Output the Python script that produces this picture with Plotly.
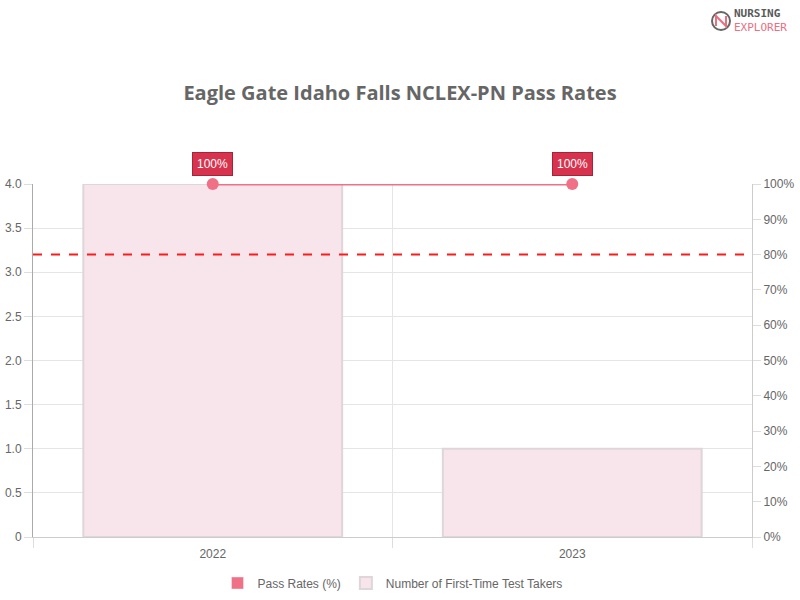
import plotly.graph_objects as go

years = ["2022", "2023"]
test_takers = [4, 1]
pass_rates = [100, 100]
threshold = 80
left_ticks = [0, 0.5, 1.0, 1.5, 2.0, 2.5, 3.0, 3.5, 4.0]
left_tick_text = ["0", "0.5", "1.0", "1.5", "2.0", "2.5", "3.0", "3.5", "4.0"]
right_ticks = [0, 10, 20, 30, 40, 50, 60, 70, 80, 90, 100]

title = "Eagle Gate Idaho Falls NCLEX-PN Pass Rates"
base_font = "Liberation Sans, Arial, sans-serif"
grey = "#666666"
line_color = "#F07085"

H, W = 600, 800
M_L, M_R, M_T, M_B = 33, 48, 184, 63
PH = H - M_T - M_B
PW = W - M_L - M_R


def py(page_y):
    return (H - M_B - page_y) / PH


def px(page_x):
    return (page_x - M_L) / PW


fig = go.Figure()
fig.add_trace(go.Bar(
    x=years, y=test_takers, name="Number of First-Time Test Takers",
    marker=dict(color="rgba(248,229,236,1)", line=dict(color="rgba(222,214,217,1)", width=2)),
    width=0.72, yaxis="y", xaxis="x", legendrank=2,
))
fig.add_trace(go.Scatter(
    x=years, y=pass_rates, name="Pass Rates (%)", mode="lines+markers",
    line=dict(color=line_color, width=3), marker=dict(color=line_color, size=12),
    yaxis="y2", xaxis="x", cliponaxis=False, showlegend=False,
))
# legend swatch for the line series (Chart.js-style filled box)
fig.add_trace(go.Bar(
    x=[None], y=[None], name="Pass Rates (%)", marker=dict(color=line_color),
    yaxis="y", xaxis="x", legendrank=1,
))

n = len(years)
for i, pr in enumerate(pass_rates):
    fig.add_annotation(
        x=(i + 0.5) / n, y=pr / 100, xref="paper", yref="paper", text=f"{pr}%", showarrow=False,
        xanchor="center", yanchor="middle", yshift=20,
        font=dict(color="white", size=12, family=base_font),
        bgcolor="#D7334E", bordercolor="#A8223A", borderwidth=1, borderpad=4,
    )

fig.add_shape(type="line", xref="paper", x0=0, x1=1, yref="y2", y0=threshold, y1=threshold,
              line=dict(color="#FF1A1A", width=2, dash="dash"))

# Logo
fig.add_annotation(xref="paper", yref="paper", x=px(732), y=py(21), xanchor="left", yanchor="middle",
                   text="<b>NURSING</b><br><span style='color:#E8707F'>EXPLORER</span>",
                   showarrow=False, align="left",
                   font=dict(family="DejaVu Sans Mono, monospace", size=11, color="#5a5a5a"))
fig.add_shape(type="circle", xref="paper", yref="paper",
              x0=px(712), x1=px(730), y0=py(30), y1=py(12),
              line=dict(color="#666666", width=2), fillcolor="white")
fig.add_shape(type="path", xref="paper", yref="paper",
              path=f"M {px(716)},{py(26)} L {px(716)},{py(16)} L {px(726)},{py(26)} L {px(726)},{py(16)}",
              line=dict(color="#E8707F", width=2))

fig.update_layout(
    width=W, height=H,
    paper_bgcolor="white", plot_bgcolor="white",
    margin=dict(l=M_L, r=M_R, t=M_T, b=M_B, autoexpand=False),
    title=dict(text=f"<b>{title}</b>", x=0.5, xanchor="center", y=1 - 93 / H, yanchor="middle",
               font=dict(family="Open Sans, sans-serif", size=20, color=grey)),
    font=dict(family=base_font, size=12, color=grey),
    showlegend=True,
    legend=dict(orientation="h", x=0.5, xanchor="center", y=py(583), yanchor="middle",
                font=dict(size=12, color=grey)),
    xaxis=dict(type="category", range=[-0.5, 1.5], showgrid=False, showline=True,
               linecolor="#cccccc", ticks="", ticklabelstandoff=6, zeroline=False,
               automargin=False),
    xaxis2=dict(overlaying="x", range=[-0.5, 1.5], tickvals=[-0.5, 0.5, 1.5], showticklabels=False,
                showgrid=True, gridcolor="#e5e5e5", ticks="outside", ticklen=10, tickcolor="#dddddd",
                side="bottom", anchor="y", zeroline=False, automargin=False),
    yaxis=dict(range=[0, 4], tickvals=left_ticks, ticktext=left_tick_text, showgrid=True,
               gridcolor="#e5e5e5", showline=True, linecolor="#aaaaaa", ticks="outside",
               ticklen=8, tickcolor="#dddddd", zeroline=False, automargin=False),
    yaxis2=dict(range=[0, 100], tickvals=right_ticks, ticktext=[f"{t}%" for t in right_ticks],
                overlaying="y", side="right",
                showgrid=False, showline=True, linecolor="#cccccc", ticks="outside", ticklen=8,
                tickcolor="#dddddd", zeroline=False, automargin=False),
)
fig.add_trace(go.Scatter(x=[None], y=[None], xaxis="x2", yaxis="y", showlegend=False, hoverinfo="skip"))

fig.write_html("out.html", config={"displayModeBar": False},
               post_script="document.body.style.margin='0';document.body.style.overflow='hidden';")
